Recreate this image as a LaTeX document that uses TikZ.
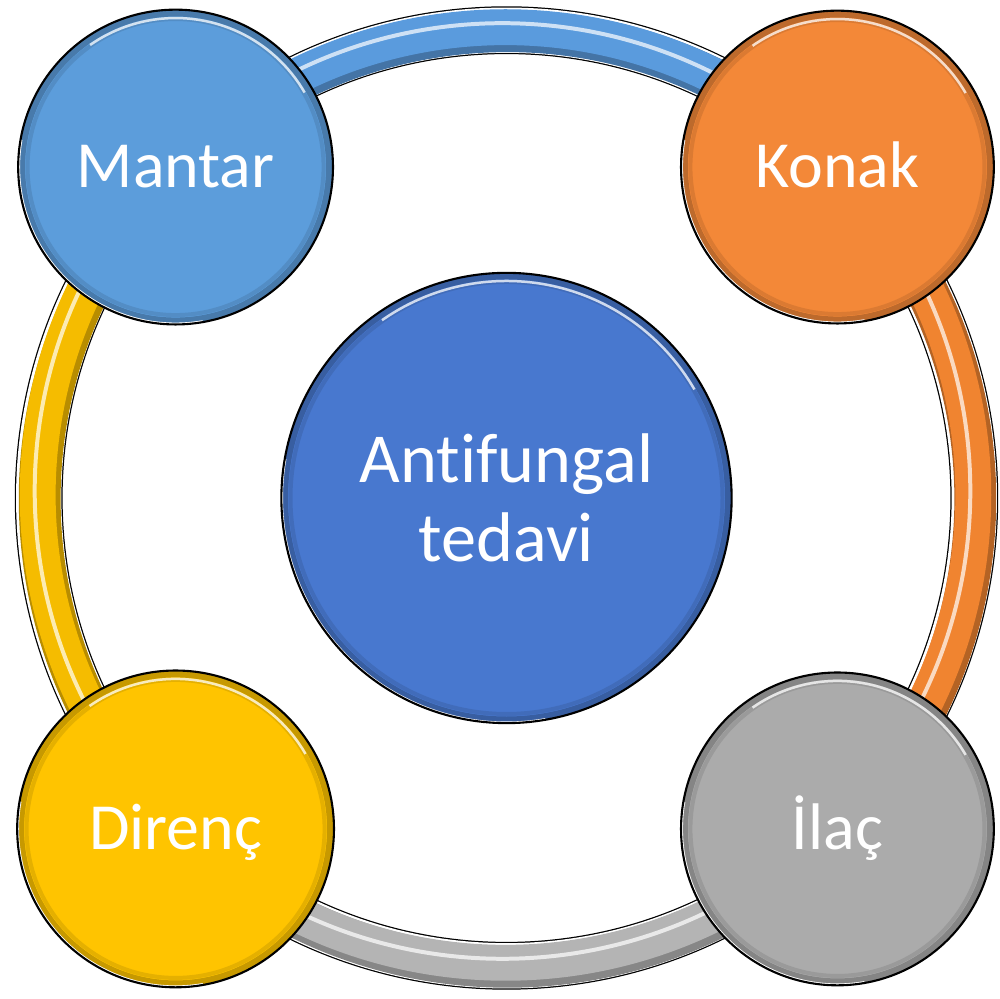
\documentclass[tikz,border=0pt]{standalone}
\usepackage{fontspec}
\setmainfont[Ligatures=NoCommon]{Carlito}
\usetikzlibrary{calc}
\usetikzlibrary{backgrounds}

\definecolor{hubBlue}{HTML}{4878CF}
\definecolor{mantarBlue}{HTML}{5C9DDB}
\definecolor{konakOrange}{HTML}{F38838}
\definecolor{direncGold}{HTML}{FFC400}
\definecolor{ilacGray}{HTML}{ABABAB}
\definecolor{tubeBlue}{HTML}{5A9BDD}
\definecolor{tubeOrange}{HTML}{F08430}
\definecolor{tubeGold}{HTML}{F5BC00}
\definecolor{tubeGray}{HTML}{B4B4B4}

\begin{document}
\begin{tikzpicture}[x=0.02cm, y=0.02cm,
  ball/.style 2 args={circle, draw=black, line width=1.2pt, fill=#1, text=white, inner sep=0pt, minimum size=2*#2*\px,
    path picture={
      \draw[#1!78!black, line width=7*\px] (path picture bounding box.center) circle[radius=#2-4];
      \draw[#1!90!black, line width=4*\px] (path picture bounding box.center) circle[radius=#2-10];
      \draw[white, line width=2*\px] (path picture bounding box.center) ++(170:{#2-1.5}) arc[start angle=170, end angle=280, radius=#2-1.5];
      \draw[white, opacity=0.75, line width=2.5*\px] (path picture bounding box.center) ++(125:{#2-9}) arc[start angle=125, end angle=30, radius=#2-9];
    }},
  small/.style={font=\fontsize{37.5pt}{45pt}\selectfont, text height=23.8pt, text depth=0pt}]
\def\px{0.567pt}
\def\rr{468}

\useasboundingbox (0,0) rectangle (1000,999);
\coordinate (mid) at (506.5,501);

\node[ball={hubBlue}{226}, align=center, font=\fontsize{40pt}{44.8pt}\selectfont] (hub) at (mid) {Antifungal\\tedavi};
\node[ball={mantarBlue}{158}, small] (mantar) at ($(mid)+(135:\rr)$) {Mantar};
\node[ball={konakOrange}{157}, small] (konak) at ($(mid)+(45:\rr)$) {Konak};
\node[ball={direncGold}{159}, small] (direnc) at ($(mid)+(225:\rr)$) {Direnç};
\node[ball={ilacGray}{157}, small] (ilac) at ($(mid)+(315:\rr)$) {İlaç};

% ring tubes, behind the balls
\begin{scope}[on background layer]
\foreach \a/\b/\o/\ti/\col in {mantar/konak/45/135/tubeBlue, konak/ilac/-45/45/tubeOrange, ilac/direnc/225/-45/tubeGray, direnc/mantar/135/225/tubeGold} {
  \draw[black, line width=48*\px] (\a.center) to[out=\o, in=\ti] (\b.center);
  \draw[white, line width=45.5*\px] (\a.center) to[out=\o, in=\ti] (\b.center);
  \draw[\col!75!black, line width=42*\px, transform canvas={shift={(1,-1)}}] (\a.center) to[out=\o, in=\ti] (\b.center);
  \draw[\col, line width=36*\px, transform canvas={shift={(-1,3)}}] (\a.center) to[out=\o, in=\ti] (\b.center);
  \draw[\col!30!white, line width=4*\px, transform canvas={shift={(-4,7)}}] (\a.center) to[out=\o, in=\ti] (\b.center);
}
\end{scope}
\end{tikzpicture}
\end{document}
